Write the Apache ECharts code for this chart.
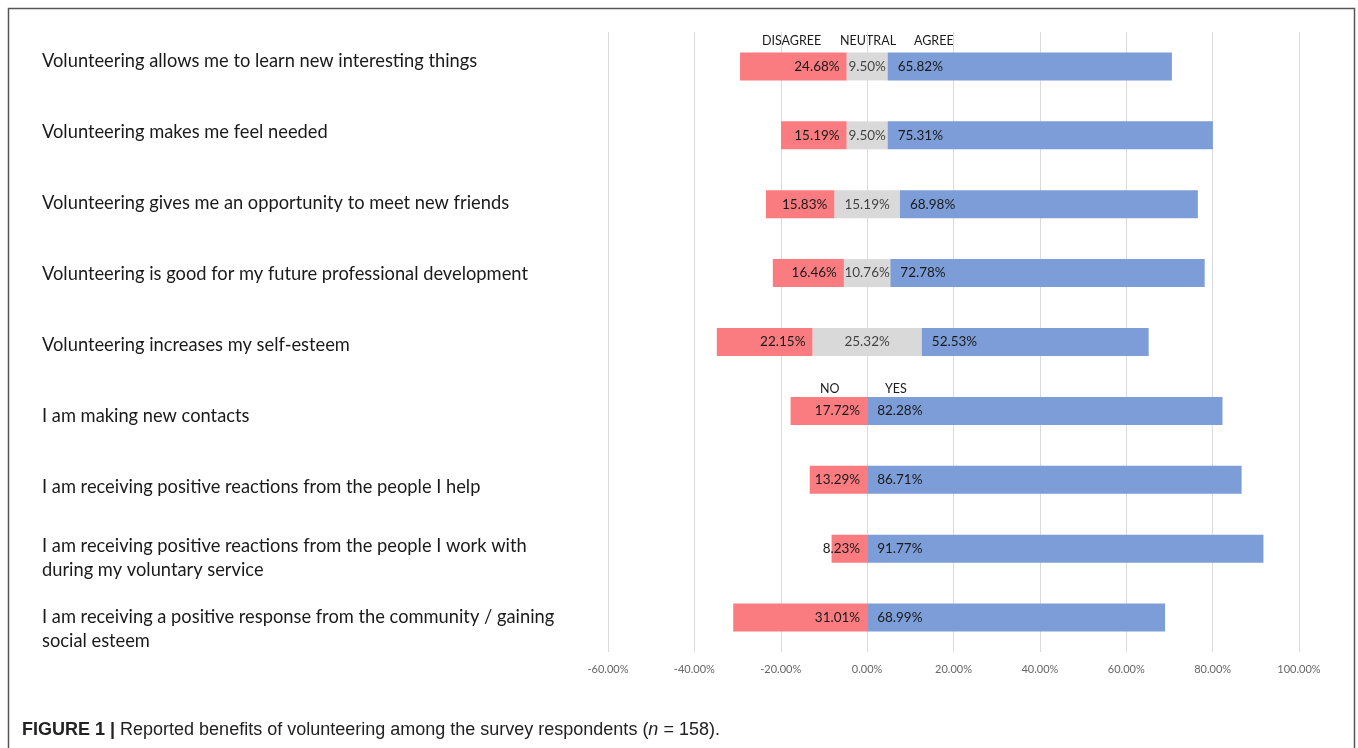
<!DOCTYPE html>
<html>
<head>
<meta charset="utf-8">
<script src="https://cdn.jsdelivr.net/npm/echarts@6/dist/echarts.min.js"></script>
<style>
  html, body { margin: 0; padding: 0; background: #fff; }
  #chart { width: 1358px; height: 748px; }
</style>
</head>
<body>
<div id="chart"></div>
<script>
const statements = [
  "Volunteering allows me to learn new interesting things",
  "Volunteering makes me feel needed",
  "Volunteering gives me an opportunity to meet new friends",
  "Volunteering is good for my future professional development",
  "Volunteering increases my self-esteem",
  "I am making new contacts",
  "I am receiving positive reactions from the people I help",
  "I am receiving positive reactions from the people I work with\nduring my voluntary service",
  "I am receiving a positive response from the community / gaining\nsocial esteem",
];
// disagree / no
const disagree = [24.68, 15.19, 15.83, 16.46, 22.15, 17.72, 13.29, 8.23, 31.01];
// neutral (only the 5-point items)
const neutral = [9.50, 9.50, 15.19, 10.76, 25.32, null, null, null, null];
// agree / yes
const agree = [65.82, 75.31, 68.98, 72.78, 52.53, 82.28, 86.71, 91.77, 68.99];
const xTicks = [-60, -40, -20, 0, 20, 40, 60, 80, 100];

const RED = "#fb7c80";
const GREY = "#d9d9d9";
const BLUE = "#7c9dd7";
const FONT = "Lato";

const halfNeutral = neutral.map((v) => (v == null ? 0 : v / 2));
const pct = (v) => v.toFixed(2) + "%";

const chart = echarts.init(document.getElementById("chart"));

const barLabel = {
  show: true,
  fontFamily: FONT,
  fontSize: 13.5,
  color: "#1a1a1a",
};

const headText = (txt, x, y) => ({
  type: "text", left: x, top: y,
  style: { text: txt, font: `12.5px ${FONT}`, fill: "#1a1a1a" },
});

chart.setOption({
  animation: false,
  grid: [
    { left: 608, right: 59, top: 32, bottom: 96, containLabel: false, outerBoundsMode: "none" },
    { left: 608, right: 59, top: 25.5, bottom: 83.5, containLabel: false, outerBoundsMode: "none" },
  ],
  xAxis: [
    {
      type: "value",
      min: xTicks[0],
      max: xTicks[xTicks.length - 1],
      interval: 20,
      axisLine: { show: false },
      axisTick: { show: false },
      splitLine: { lineStyle: { color: "#dadada", width: 1 } },
      axisLabel: {
        margin: 12,
        fontFamily: FONT,
        fontSize: 11,
        color: "#666",
        formatter: (v) => v.toFixed(2) + "%",
      },
    },
    { type: "value", gridIndex: 1, min: 0, max: 1, show: false },
  ],
  yAxis: [
    {
      type: "category",
      data: statements,
      inverse: true,
      axisLine: { show: false },
      axisTick: { show: false },
      axisLabel: { show: false },
    },
    {
      type: "category",
      gridIndex: 1,
      data: statements,
      inverse: true,
      axisLine: { show: false },
      axisTick: { show: false },
      axisLabel: {
        align: "left",
        margin: 566,
        fontFamily: FONT,
        fontSize: 18.3,
        lineHeight: 24,
        color: "#1a1a1a",
      },
    },
  ],
  series: [
    {
      name: "neutral-left",
      type: "bar",
      stack: "s",
      barWidth: 28,
      itemStyle: { color: GREY },
      data: halfNeutral.map((v) => -v),
    },
    {
      name: "disagree",
      type: "bar",
      stack: "s",
      barWidth: 28,
      itemStyle: { color: RED },
      label: {
        ...barLabel,
        position: "insideRight",
        distance: 7,
        formatter: (p) => pct(disagree[p.dataIndex]),
      },
      data: disagree.map((v) => -v),
    },
    {
      name: "neutral-right",
      type: "bar",
      stack: "s",
      barWidth: 28,
      itemStyle: { color: GREY },
      data: halfNeutral,
    },
    {
      name: "agree",
      type: "bar",
      stack: "s",
      barWidth: 28,
      itemStyle: { color: BLUE },
      label: {
        ...barLabel,
        position: "insideLeft",
        distance: 10,
        formatter: (p) => pct(agree[p.dataIndex]),
      },
      data: agree,
    },
    {
      name: "neutral-label",
      type: "scatter",
      symbolSize: 0,
      label: {
        ...barLabel,
        position: "inside",
        formatter: (p) => pct(neutral[p.dataIndex]),
      },
      data: neutral.map((v, i) => (v == null ? null : [0, statements[i]])),
    },
  ],
  graphic: [
    {
      type: "rect",
      shape: { x: 8.5, y: 8.5, width: 1346, height: 760 },
      style: { fill: null, stroke: "#555", lineWidth: 1.5 },
      silent: true,
    },
    headText("DISAGREE", 762, 34),
    headText("NEUTRAL", 840, 34),
    headText("AGREE", 914, 34),
    headText("NO", 820, 382),
    headText("YES", 885, 382),
    {
      type: "text",
      left: 22,
      top: 721,
      style: {
        text: "{b|FIGURE 1 |} Reported benefits of volunteering among the survey respondents ({i|n} = 158).",
        font: "18px 'Liberation Sans'",
        fill: "#222",
        rich: {
          b: { fontWeight: "bold", fontSize: 18, fontFamily: "Liberation Sans", fill: "#222" },
          i: { fontStyle: "italic", fontSize: 18, fontFamily: "Liberation Sans", fill: "#222" },
        },
      },
    },
  ],
});
</script>
</body>
</html>
